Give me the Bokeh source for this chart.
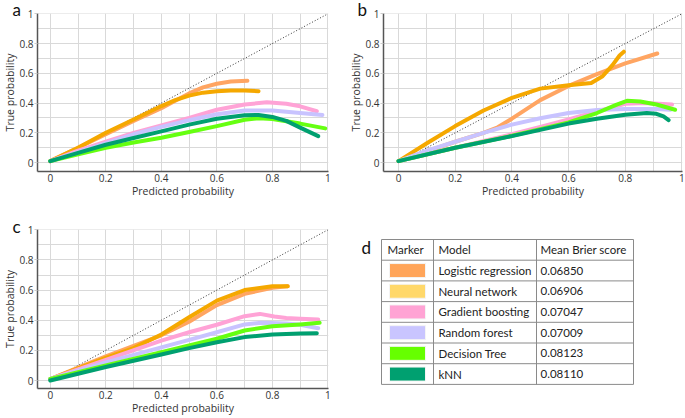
from bokeh.plotting import figure
from bokeh.models import Range1d, FixedTicker, CustomJSTickFormatter
from bokeh.layouts import row, column
from bokeh.embed import file_html
from bokeh.resources import INLINE
from bokeh.core.properties import value

# ---------------- data ----------------
models = ["Logistic regression", "Neural network", "Gradient boosting",
          "Random forest", "Decision Tree", "kNN"]
brier_scores = ["0.06850", "0.06906", "0.07047", "0.07009", "0.08123", "0.08110"]
swatch_colors = ["#FFA55A", "#FFD86A", "#FFA3D4", "#C9C5FF", "#66FF00", "#00A070"]
line_colors = ["#FFA562", "#F5A800", "#FFA3D6", "#C8C3FF", "#66FF11", "#00A070"]
header = ["Marker", "Model", "Mean Brier score"]

major_ticks = [0, 0.2, 0.4, 0.6, 0.8, 1]
minor_ticks = [0.1, 0.3, 0.5, 0.7, 0.9]
diag_x = [0, 1]
diag_y = [0, 1]

# panel a
a_lr_x = [0, 0.1, 0.2, 0.3, 0.4, 0.45, 0.5, 0.55, 0.6, 0.65, 0.71]
a_lr_y = [0.01, 0.1, 0.19, 0.28, 0.365, 0.415, 0.465, 0.505, 0.53, 0.545, 0.55]
a_nn_x = [0, 0.1, 0.2, 0.3, 0.4, 0.45, 0.5, 0.55, 0.6, 0.65, 0.7, 0.75]
a_nn_y = [0.01, 0.1, 0.2, 0.29, 0.38, 0.42, 0.45, 0.47, 0.48, 0.485, 0.485, 0.48]
a_gb_x = [0, 0.1, 0.2, 0.3, 0.4, 0.5, 0.6, 0.7, 0.78, 0.85, 0.9, 0.96]
a_gb_y = [0.01, 0.08, 0.14, 0.2, 0.25, 0.3, 0.355, 0.39, 0.405, 0.395, 0.378, 0.345]
a_rf_x = [0, 0.1, 0.2, 0.3, 0.4, 0.5, 0.6, 0.7, 0.8, 0.9, 0.98]
a_rf_y = [0.01, 0.07, 0.13, 0.19, 0.24, 0.285, 0.325, 0.35, 0.35, 0.333, 0.32]
a_dt_x = [0, 0.1, 0.2, 0.3, 0.4, 0.5, 0.6, 0.7, 0.75, 0.8, 0.9, 0.99]
a_dt_y = [0.01, 0.055, 0.1, 0.135, 0.167, 0.205, 0.245, 0.288, 0.298, 0.293, 0.262, 0.23]
a_knn_x = [0, 0.1, 0.2, 0.3, 0.4, 0.5, 0.6, 0.7, 0.75, 0.8, 0.85, 0.9, 0.965]
a_knn_y = [0.01, 0.065, 0.12, 0.165, 0.21, 0.255, 0.295, 0.318, 0.32, 0.307, 0.28, 0.235, 0.178]

# panel b
b_lr_x = [0, 0.1, 0.2, 0.3, 0.35, 0.4, 0.5, 0.6, 0.7, 0.8, 0.913]
b_lr_y = [0.01, 0.075, 0.14, 0.2, 0.237, 0.295, 0.42, 0.515, 0.595, 0.667, 0.733]
b_nn_x = [0, 0.1, 0.2, 0.3, 0.4, 0.5, 0.6, 0.68, 0.72, 0.755, 0.78, 0.795]
b_nn_y = [0.01, 0.13, 0.245, 0.35, 0.435, 0.497, 0.52, 0.535, 0.58, 0.655, 0.72, 0.745]
b_gb_x = [0, 0.2, 0.4, 0.5, 0.6, 0.7, 0.8, 0.87, 0.965]
b_gb_y = [0.01, 0.1, 0.19, 0.24, 0.29, 0.344, 0.395, 0.4, 0.39]
b_rf_x = [0, 0.1, 0.2, 0.3, 0.4, 0.5, 0.6, 0.7, 0.8, 0.91, 0.96]
b_rf_y = [0.01, 0.08, 0.14, 0.2, 0.255, 0.298, 0.333, 0.353, 0.36, 0.36, 0.355]
b_dt_x = [0, 0.2, 0.4, 0.5, 0.6, 0.7, 0.77, 0.806, 0.853, 0.91, 0.976]
b_dt_y = [0.01, 0.1, 0.18, 0.225, 0.27, 0.333, 0.39, 0.415, 0.41, 0.39, 0.355]
b_knn_x = [0, 0.2, 0.4, 0.5, 0.6, 0.7, 0.8, 0.876, 0.91, 0.935, 0.953]
b_knn_y = [0.01, 0.1, 0.178, 0.22, 0.262, 0.295, 0.322, 0.333, 0.328, 0.31, 0.285]

# panel c
c_lr_x = [0, 0.1, 0.2, 0.3, 0.4, 0.5, 0.6, 0.7, 0.8, 0.855]
c_lr_y = [0.01, 0.085, 0.16, 0.23, 0.3, 0.39, 0.5, 0.575, 0.615, 0.625]
c_nn_x = [0, 0.1, 0.2, 0.3, 0.4, 0.5, 0.6, 0.7, 0.8, 0.855]
c_nn_y = [0.01, 0.08, 0.15, 0.215, 0.305, 0.42, 0.53, 0.6, 0.625, 0.625]
c_gb_x = [0, 0.2, 0.4, 0.5, 0.6, 0.7, 0.755, 0.807, 0.85, 0.9, 0.965]
c_gb_y = [0.01, 0.137, 0.265, 0.32, 0.37, 0.427, 0.442, 0.425, 0.415, 0.41, 0.405]
c_rf_x = [0, 0.2, 0.4, 0.5, 0.6, 0.7, 0.76, 0.85, 0.9, 0.965]
c_rf_y = [0.01, 0.12, 0.22, 0.27, 0.32, 0.372, 0.383, 0.378, 0.37, 0.347]
c_dt_x = [0, 0.2, 0.4, 0.5, 0.6, 0.7, 0.8, 0.9, 0.97]
c_dt_y = [0.01, 0.1, 0.188, 0.232, 0.277, 0.332, 0.36, 0.372, 0.383]
c_knn_x = [0, 0.2, 0.4, 0.5, 0.6, 0.7, 0.8, 0.9, 0.96]
c_knn_y = [0.0, 0.09, 0.173, 0.215, 0.254, 0.288, 0.305, 0.312, 0.314]

panel_a = [(a_lr_x, a_lr_y), (a_nn_x, a_nn_y), (a_gb_x, a_gb_y),
           (a_rf_x, a_rf_y), (a_dt_x, a_dt_y), (a_knn_x, a_knn_y)]
panel_b = [(b_lr_x, b_lr_y), (b_nn_x, b_nn_y), (b_gb_x, b_gb_y),
           (b_rf_x, b_rf_y), (b_dt_x, b_dt_y), (b_knn_x, b_knn_y)]
panel_c = [(c_lr_x, c_lr_y), (c_nn_x, c_nn_y), (c_gb_x, c_gb_y),
           (c_rf_x, c_rf_y), (c_dt_x, c_dt_y), (c_knn_x, c_knn_y)]

AX_FONT = "Open Sans"
LBL_FONT = "Lato"


def make_panel(width, height, bl, br, bt, bb, xr, yr, letter, t_off, t_stand, series):
    p = figure(width=width, height=height, x_range=Range1d(*xr), y_range=Range1d(*yr),
               output_backend="svg", toolbar_location=None,
               min_border_left=bl, min_border_right=br,
               min_border_top=bt, min_border_bottom=bb)
    p.outline_line_color = None
    # panel letter as the figure title, shifted to the left of the axes
    p.title.text = letter
    p.title.align = "left"
    p.title.offset = t_off
    p.title.standoff = t_stand
    p.title.text_font = LBL_FONT
    p.title.text_font_size = "17px"
    p.title.text_font_style = "normal"
    p.title.text_color = "#111111"
    ticker = FixedTicker(ticks=major_ticks, minor_ticks=minor_ticks)
    fmt = CustomJSTickFormatter(code="return tick.toString();")
    for ax in (p.xaxis[0], p.yaxis[0]):
        ax.ticker = ticker
        ax.formatter = fmt
        ax.minor_tick_line_color = None
        ax.axis_line_color = "#555555"
        ax.axis_line_width = 1.5
        ax.major_label_text_font = AX_FONT
        ax.major_label_text_font_size = "10px"
        ax.major_label_text_color = "#333333"
        ax.axis_label_text_font = AX_FONT
        ax.axis_label_text_font_size = "10.5px"
        ax.axis_label_text_font_style = "normal"
        ax.axis_label_text_color = "#333333"
    p.xaxis.axis_label = "Predicted probability"
    p.yaxis.axis_label = "True probability"
    p.xaxis.major_tick_out = 0
    p.xaxis.major_tick_in = 0
    p.xaxis.major_label_standoff = -2
    p.xaxis.axis_label_standoff = -1
    p.yaxis.major_tick_out = 3
    p.yaxis.major_tick_in = 0
    p.yaxis.major_tick_line_color = "#cccccc"
    p.yaxis.major_label_standoff = 0
    p.yaxis.axis_label_standoff = -1
    for g in (p.xgrid[0], p.ygrid[0]):
        g.ticker = ticker
        g.grid_line_color = "#d9d9d9"
        g.minor_grid_line_color = "#d9d9d9"
    p.line(diag_x, diag_y, line_color="#333333", line_width=1, line_dash="1 2")
    for (xs, ys), c in zip(series, line_colors):
        p.line(xs, ys, line_color=c, line_width=4, line_cap="round", line_join="round")
    return p


pa = make_panel(340, 200, 30, 12, 13, 28, (-0.046, 1.002), (-0.06, 1.002), "a", -25, -12, panel_a)
pb = make_panel(345, 200, 43, 3, 13, 28, (-0.053, 1.002), (-0.06, 1.002), "b", -26, -12, panel_b)
pc = make_panel(340, 218, 30, 12, 29, 30, (-0.046, 1.002), (-0.053, 1.002), "c", -25, -14, panel_c)

# ---------------- table (d) ----------------
# data units of this figure are page pixels of the frame area
d_left, d_w, d_h = 340, 345, 218
d_frame_top, d_frame_bottom = 229, 388
pd_ = figure(width=d_w, height=d_h, x_range=Range1d(d_left, d_left + d_w),
             y_range=Range1d(d_frame_bottom, d_frame_top), output_backend="svg",
             toolbar_location=None, min_border_left=0, min_border_right=0,
             min_border_top=29, min_border_bottom=30,
             x_axis_location=None, y_axis_location=None)
pd_.grid.visible = False
pd_.outline_line_color = None

col_edges = [381, 433, 536, 633]
tbl_top = 239
row_h = 20.7
n_rows = len(models) + 1
row_lines = [tbl_top + i * row_h for i in range(n_rows + 1)]
tbl_bottom = row_lines[-1]
pd_.segment(x0=[col_edges[0]] * len(row_lines), x1=[col_edges[-1]] * len(row_lines),
            y0=row_lines, y1=row_lines, line_color="#8a8a8a", line_width=1)
pd_.segment(x0=col_edges, x1=col_edges, y0=[tbl_top] * len(col_edges),
            y1=[tbl_bottom] * len(col_edges), line_color="#8a8a8a", line_width=1)

row_centers = [tbl_top + (i + 1.5) * row_h for i in range(len(models))]
sw_cx = (col_edges[0] + col_edges[1]) / 2
pd_.quad(left=[sw_cx - 18] * len(models), right=[sw_cx + 18] * len(models),
         top=[c - 7 for c in row_centers], bottom=[c + 7 for c in row_centers],
         fill_color=swatch_colors, line_color="#f4f4f4", line_width=1)

head_y = tbl_top + 0.5 * row_h
pd_.text(x=[col_edges[0] + 6, col_edges[1] + 5, col_edges[2] + 4], y=[head_y] * 3, text=header,
         text_font=value(LBL_FONT), text_font_size=value("11.5px"), text_baseline="middle",
         text_align="left", text_color="#222222")
pd_.text(x=[col_edges[1] + 5] * len(models), y=row_centers, text=models,
         text_font=value(LBL_FONT), text_font_size=value("11.5px"), text_baseline="middle",
         text_align="left", text_color="#222222")
pd_.text(x=[col_edges[2] + 4] * len(models), y=row_centers, text=brier_scores,
         text_font=value(LBL_FONT), text_font_size=value("11.5px"), text_baseline="middle",
         text_align="left", text_color="#222222")
pd_.text(x=[361], y=[236], text=["d"], text_font=value(LBL_FONT), text_font_size=value("17px"),
         text_baseline="top", text_align="left", text_color="#111111")

layout = column(row(pa, pb), row(pc, pd_))
open("out.html", "w").write(file_html(layout, INLINE))
